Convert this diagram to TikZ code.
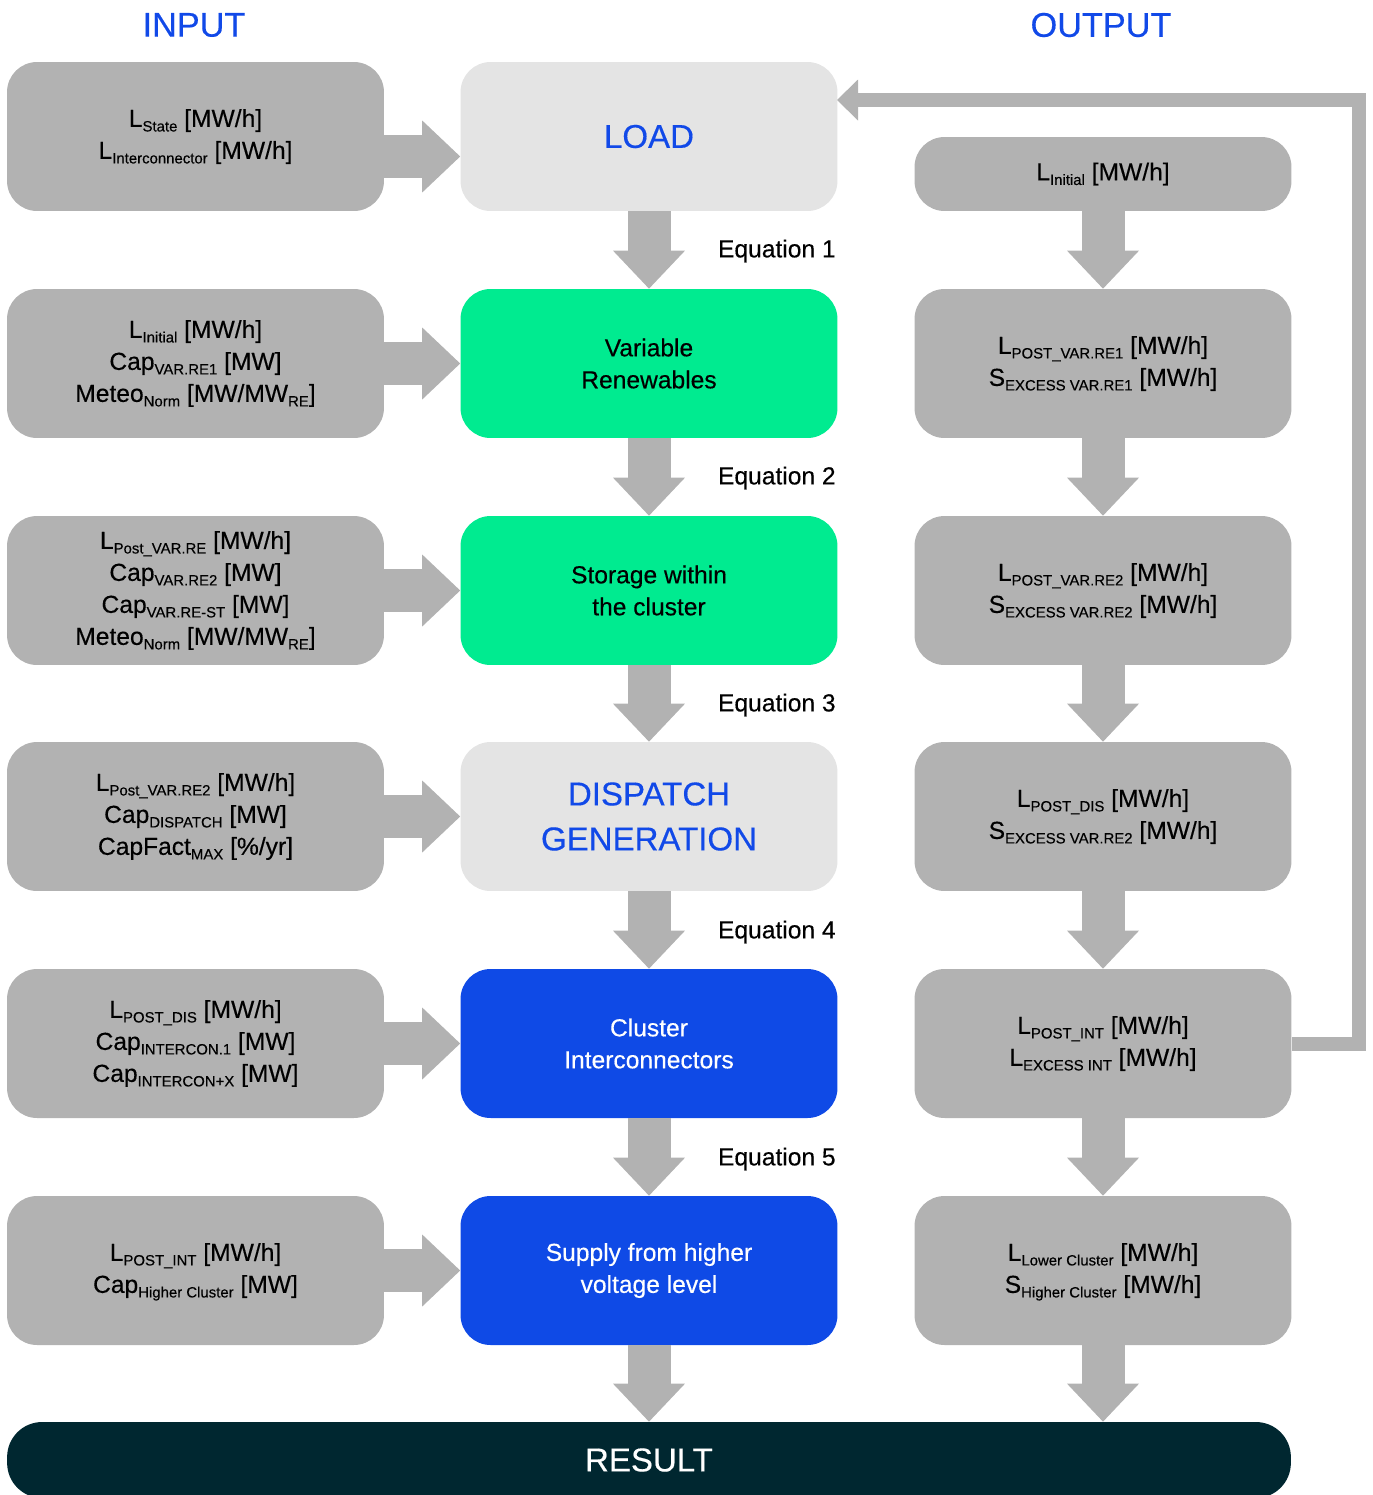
\documentclass[tikz,border=0pt]{standalone}
\usepackage{fontspec}
\setmainfont{Liberation Sans}[FakeBold=0.35]
\usetikzlibrary{arrows.meta}
\definecolor{boxgray}{RGB}{178,178,178}
\definecolor{lightbox}{RGB}{228,228,228}
\definecolor{renew}{RGB}{0,235,144}
\definecolor{clusterblue}{RGB}{15,74,230}
\definecolor{headblue}{RGB}{17,73,232}
\definecolor{resultdark}{RGB}{0,39,48}
\newcommand{\sbs}[1]{\raisebox{-2.6pt}[\height][0pt]{\fontsize{8.5}{9}\selectfont #1}}
\newcommand{\boxfont}{\fontsize{14}{18.2}\selectfont}
\newcommand{\headfont}{\fontsize{18.8}{25.6}\selectfont}

\begin{document}
\begin{tikzpicture}[x=0.02cm,y=-0.02cm,
  card/.style={fill=boxgray,rounded corners=0.6cm,minimum width=7.54cm,minimum height=2.98cm,align=center,font=\boxfont,inner sep=0pt},
  flatcard/.style={card,fill=lightbox,text=headblue,font=\headfont},
  renewcard/.style={card,fill=renew},
  bluecard/.style={card,fill=clusterblue,text=white},
  blockarrow/.style={boxgray,line width=0.86cm,-{Triangle[width=1.44cm,length=0.76cm,line width=0pt]}},
  loopback/.style={boxgray,line width=0.28cm,line join=miter,-{Triangle[width=0.82cm,length=0.42cm,line width=0pt]}},
  eqtext/.style={font=\boxfont,anchor=east,inner sep=0pt},
  coltitle/.style={font=\fontsize{19.5}{22}\selectfont,text=headblue}]
\useasboundingbox (0,0) rectangle (1373,1495);
\node[coltitle] (tin) at (194,25) {INPUT};
\node[coltitle] (tout) at (1101,25) {OUTPUT};
% input column
\node[card] (i1) at (195.5,136.5) {L\sbs{State} [MW/h]\\L\sbs{Interconnector} [MW/h]};
\node[card] (i2) at (195.5,363.5) {L\sbs{Initial} [MW/h]\\Cap\sbs{VAR.RE1} [MW]\\Meteo\sbs{Norm} [MW/MW\sbs{RE}]};
\node[card] (i3) at (195.5,590.5) {L\sbs{Post\_VAR.RE} [MW/h]\\Cap\sbs{VAR.RE2} [MW]\\Cap\sbs{VAR.RE-ST} [MW]\\Meteo\sbs{Norm} [MW/MW\sbs{RE}]};
\node[card] (i4) at (195.5,816.5) {L\sbs{Post\_VAR.RE2} [MW/h]\\Cap\sbs{DISPATCH} [MW]\\CapFact\sbs{MAX} [\%/yr]};
\node[card] (i5) at (195.5,1043.5) {L\sbs{POST\_DIS} [MW/h]\\Cap\sbs{INTERCON.1} [MW]\\Cap\sbs{INTERCON+X} [MW]};
\node[card] (i6) at (195.5,1270.5) {L\sbs{POST\_INT} [MW/h]\\Cap\sbs{Higher Cluster} [MW]};
% model steps
\node[flatcard] (load) at (649,136.5) {LOAD};
\node[renewcard] (vre) at (649,363.5) {Variable\\Renewables};
\node[renewcard] (stor) at (649,590.5) {Storage within\\the cluster};
\node[flatcard] (disp) at (649,816.5) {DISPATCH\\GENERATION};
\node[bluecard] (inter) at (649,1043.5) {Cluster\\Interconnectors};
\node[bluecard] (supply) at (649,1270.5) {Supply from higher\\voltage level};
% output column
\node[card,minimum height=1.48cm] (o1) at (1103,174) {L\sbs{Initial} [MW/h]};
\node[card] (o2) at (1103,363.5) {L\sbs{POST\_VAR.RE1} [MW/h]\\S\sbs{EXCESS VAR.RE1} [MW/h]};
\node[card] (o3) at (1103,590.5) {L\sbs{POST\_VAR.RE2} [MW/h]\\S\sbs{EXCESS VAR.RE2} [MW/h]};
\node[card] (o4) at (1103,816.5) {L\sbs{POST\_DIS} [MW/h]\\S\sbs{EXCESS VAR.RE2} [MW/h]};
\node[card] (o5) at (1103,1043.5) {L\sbs{POST\_INT} [MW/h]\\L\sbs{EXCESS INT} [MW/h]};
\node[card] (o6) at (1103,1270.5) {L\sbs{Lower Cluster} [MW/h]\\S\sbs{Higher Cluster} [MW/h]};
\node[card,fill=resultdark,text=white,font=\headfont,minimum width=25.68cm,minimum height=1.52cm,rounded corners=0.7cm] (res) at (649,1460) {RESULT};
% inputs into steps
\draw[blockarrow] ([yshift=-0.4cm]i1.east) -- ([yshift=-0.4cm]load.west);
\draw[blockarrow] (i2) -- (vre);
\draw[blockarrow] (i3) -- (stor);
\draw[blockarrow] (i4) -- (disp);
\draw[blockarrow] (i5) -- (inter);
\draw[blockarrow] (i6) -- (supply);
% step chain
\draw[blockarrow] (load) -- (vre);
\draw[blockarrow] (vre) -- (stor);
\draw[blockarrow] (stor) -- (disp);
\draw[blockarrow] (disp) -- (inter);
\draw[blockarrow] (inter) -- (supply);
\draw[blockarrow] (supply) -- (res);
\node[eqtext] (eq1) at (836,251) {Equation 1};
\node[eqtext] (eq2) at (836,478) {Equation 2};
\node[eqtext] (eq3) at (836,705) {Equation 3};
\node[eqtext] (eq4) at (836,932) {Equation 4};
\node[eqtext] (eq5) at (836,1159) {Equation 5};
% output chain
\draw[blockarrow] (o1) -- (o2);
\draw[blockarrow] (o2) -- (o3);
\draw[blockarrow] (o3) -- (o4);
\draw[blockarrow] (o4) -- (o5);
\draw[blockarrow] (o5) -- (o6);
\draw[blockarrow] (o6.south) -- (o6.south |- res.north);
% feedback to load
\coordinate (fbturn) at (1359,100);
\coordinate (fbin) at (837,100);
\draw[loopback] (o5.east) -| (fbturn) -- (fbin);
\end{tikzpicture}
\end{document}
